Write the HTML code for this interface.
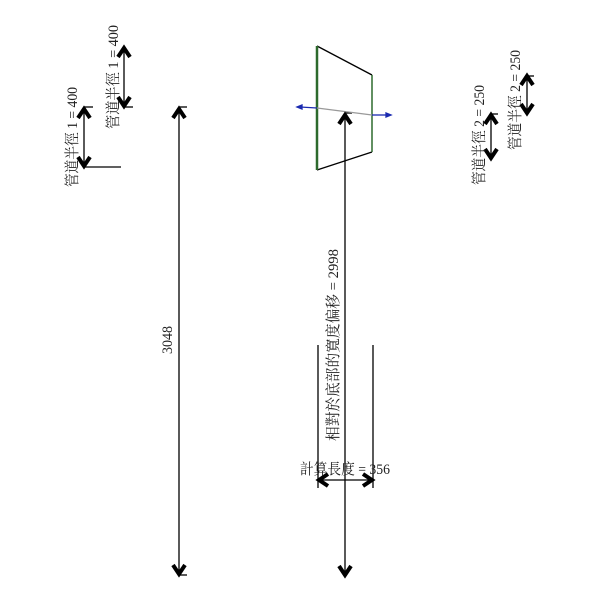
<!DOCTYPE html>
<html><head><style>body{margin:0;background:#fff}svg{display:block}</style></head><body>
<svg width="600" height="600" xmlns="http://www.w3.org/2000/svg" font-family="Liberation Serif, Noto Serif CJK SC, serif" font-size="15" fill="#222">
<g stroke="#000" fill="none" stroke-width="1.3">
<line x1="84" y1="108" x2="84" y2="167"/>
<line x1="84" y1="107" x2="93" y2="107"/>
<line x1="84" y1="167" x2="121" y2="167"/>
<line x1="124" y1="47" x2="124" y2="107"/>
<line x1="124" y1="107" x2="133" y2="107"/>
<line x1="179" y1="108" x2="179" y2="575"/>
<line x1="179" y1="107" x2="187" y2="107"/>
<line x1="179" y1="575" x2="187" y2="575"/>
<line x1="345" y1="114" x2="345" y2="576"/>
<line x1="345" y1="113" x2="352" y2="113"/>
<line x1="318" y1="345" x2="318" y2="488"/>
<line x1="373" y1="345" x2="373" y2="488"/>
<line x1="318" y1="480" x2="373" y2="480"/>
<line x1="491" y1="115" x2="491" y2="158"/>
<line x1="491" y1="114" x2="498" y2="114"/>
<line x1="527" y1="76" x2="527" y2="113"/>
<line x1="527" y1="76" x2="534" y2="76"/>
<line x1="317" y1="46" x2="372" y2="75"/>
<line x1="317" y1="170" x2="372" y2="152"/>
</g>
<line x1="317" y1="46" x2="317" y2="170" stroke="#2d6a2d" stroke-width="2.5"/>
<line x1="372" y1="75" x2="372" y2="152" stroke="#2d6a2d" stroke-width="1.5"/>
<line x1="317" y1="108" x2="372" y2="115" stroke="#999" stroke-width="1.2"/>
<g stroke="#1a2ab0" stroke-width="1.3" fill="#1a2ab0">
<line x1="317" y1="108" x2="300" y2="107"/><polygon points="297,107 302,105 302,109"/>
<line x1="372" y1="115" x2="388" y2="115"/><polygon points="391,115 386,113 386,117"/>
</g>
<g stroke="#000" fill="none" stroke-width="4" stroke-linejoin="miter">
<polyline points="78,118 84,109 90,118"/><polyline points="78,157 84,166 90,157"/>
<polyline points="118,57 124,48 130,57"/><polyline points="118,97 124,106 130,97"/>
<polyline points="173,118 179,109 185,118"/><polyline points="173,565 179,574 185,565"/>
<polyline points="339,124 345,115 351,124"/><polyline points="339,566 345,575 351,566"/>
<polyline points="328,474 319,480 328,486"/><polyline points="363,474 372,480 363,486"/>
<polyline points="485,124 491,115 497,124"/><polyline points="485,149 491,158 497,149"/>
<polyline points="521,85 527,76 533,85"/><polyline points="521,104 527,113 533,104"/>
</g>
<text transform="translate(77,137) rotate(-90)" text-anchor="middle" textLength="100" lengthAdjust="spacingAndGlyphs">管道半徑 1 = 400</text>
<text transform="translate(118,77) rotate(-90)" text-anchor="middle" textLength="104" lengthAdjust="spacingAndGlyphs">管道半徑 1 = 400</text>
<text transform="translate(172,340) rotate(-90)" text-anchor="middle" textLength="28" lengthAdjust="spacingAndGlyphs">3048</text>
<text transform="translate(338,345) rotate(-90)" text-anchor="middle" textLength="192" lengthAdjust="spacingAndGlyphs">相對於底部的寬度偏移 = 2998</text>
<text x="300" y="474" textLength="90" lengthAdjust="spacingAndGlyphs">計算長度 = 356</text>
<text transform="translate(484,135) rotate(-90)" text-anchor="middle" textLength="100" lengthAdjust="spacingAndGlyphs">管道半徑 2 = 250</text>
<text transform="translate(520,100) rotate(-90)" text-anchor="middle" textLength="100" lengthAdjust="spacingAndGlyphs">管道半徑 2 = 250</text>
</svg>
</body></html>
